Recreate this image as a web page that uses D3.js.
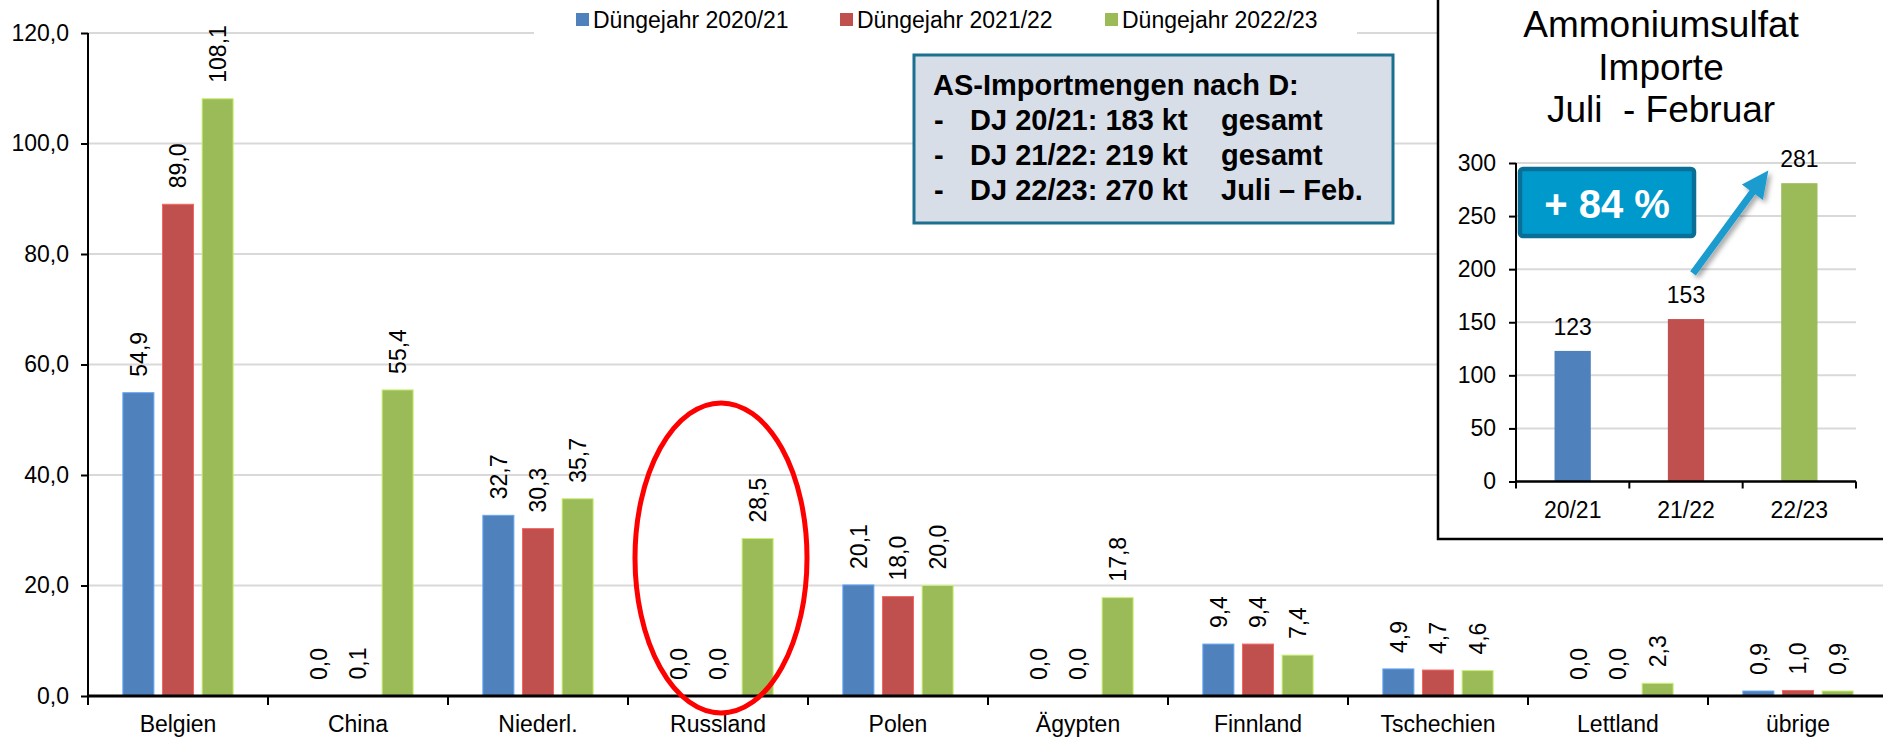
<!DOCTYPE html>
<html>
<head>
<meta charset="utf-8">
<script src="https://cdn.jsdelivr.net/npm/d3@7"></script>
<style>
  body { margin: 0; background: #fff; }
  svg { display: block; font-family: Arial, "Liberation Sans", sans-serif; }
</style>
</head>
<body>
<div id="vis"></div>
<script>

// Importe nach Herkunftsland (kt)
var categories = ['Belgien', 'China', 'Niederl.', 'Russland', 'Polen', 'Ägypten', 'Finnland', 'Tschechien', 'Lettland', 'übrige'];
var seriesNames = ['Düngejahr 2020/21', 'Düngejahr 2021/22', 'Düngejahr 2022/23'];
var dj2021 = [54.9, 0.0, 32.7, 0.0, 20.1, 0.0, 9.4, 4.9, 0.0, 0.9];
var dj2122 = [89.0, 0.1, 30.3, 0.0, 18.0, 0.0, 9.4, 4.7, 0.0, 1.0];
var dj2223 = [108.1, 55.4, 35.7, 28.5, 20.0, 17.8, 7.4, 4.6, 2.3, 0.9];
var yTicks = [0, 20, 40, 60, 80, 100, 120];

// Inset: Juli - Februar gesamt
var insetYears = ['20/21', '21/22', '22/23'];
var insetTotals = [123, 153, 281];
var insetTicks = [0, 50, 100, 150, 200, 250, 300];

var infoTitle = 'AS-Importmengen nach D:';
var infoRows = [
  ['DJ 20/21: 183 kt', 'gesamt'],
  ['DJ 21/22: 219 kt', 'gesamt'],
  ['DJ 22/23: 270 kt', 'Juli – Feb.']
];

var width = 1883;
var height = 737;
var colors = ['#4f81bd', '#c0504d', '#9bbb59'];
var gridColor = '#d9d9d9';

var de = d3.formatLocale({ decimal: ',', thousands: '.', grouping: [3], currency: ['', '€'] });
var fmt1 = de.format('.1f');

var svg = d3.select('#vis').append('svg')
  .attr('width', width)
  .attr('height', height);

var defs = svg.append('defs');
defs.append('filter')
  .attr('id', 'shadow')
  .attr('x', '-50%').attr('y', '-50%').attr('width', '200%').attr('height', '200%')
  .append('feDropShadow')
  .attr('dx', 3).attr('dy', 3).attr('stdDeviation', 2.5)
  .attr('flood-color', '#000').attr('flood-opacity', 0.35);

// ---------- main chart ----------
var x0 = d3.scaleBand().domain(categories).range([88, 1888]);
var x1 = d3.scaleBand().domain([0, 1, 2]).range([0, x0.bandwidth()])
  .paddingInner(0.217).paddingOuter(0.88);
var y = d3.scaleLinear().domain([0, 120]).range([696, 33]);

var rows = categories.map(function (c, i) {
  return { cat: c, values: [dj2021[i], dj2122[i], dj2223[i]] };
});

// gridlines
svg.append('g').selectAll('line')
  .data(yTicks.slice(1))
  .enter().append('line')
  .attr('x1', 88).attr('x2', width)
  .attr('y1', function (d) { return y(d); })
  .attr('y2', function (d) { return y(d); })
  .attr('stroke', gridColor)
  .attr('stroke-width', 2);

var groups = svg.append('g').selectAll('g')
  .data(rows)
  .enter().append('g')
  .attr('transform', function (d) { return 'translate(' + x0(d.cat) + ',0)'; });

groups.selectAll('rect')
  .data(function (d) { return d.values; })
  .enter().append('rect')
  .attr('x', function (d, i) { return x1(i); })
  .attr('y', function (d) { return y(d); })
  .attr('width', x1.bandwidth())
  .attr('height', function (d) { return y(0) - y(d); })
  .attr('fill', function (d, i) { return colors[i]; })
  .attr('stroke', function (d, i) { return d3.rgb(colors[i]).brighter(0.7); })
  .attr('stroke-width', function (d) { return d > 0 ? 1 : 0; });

// rotated value labels
groups.selectAll('text')
  .data(function (d) { return d.values; })
  .enter().append('text')
  .attr('transform', function (d, i) {
    return 'translate(' + (x1(i) + x1.bandwidth() / 2) + ',' + (y(d) - 16) + ') rotate(-90)';
  })
  .attr('dy', '0.36em')
  .attr('font-size', 23)
  .attr('fill', '#000')
  .text(function (d) { return fmt1(d); });

// axes
var yAxis = svg.append('g')
  .attr('transform', 'translate(88,0)')
  .call(d3.axisLeft(y).tickValues(yTicks).tickFormat(fmt1).tickSize(7).tickPadding(12));
yAxis.select('.domain').attr('stroke', '#000').attr('stroke-width', 2).attr('d', 'M0,' + y(120) + 'V' + y(0));
yAxis.selectAll('.tick line').attr('stroke', '#000').attr('stroke-width', 2);
yAxis.selectAll('.tick text').attr('font-size', 23).attr('fill', '#000').attr('font-family', 'Arial, "Liberation Sans", sans-serif');

var xAxisG = svg.append('g');
xAxisG.append('line')
  .attr('x1', 88).attr('x2', width)
  .attr('y1', y(0)).attr('y2', y(0))
  .attr('stroke', '#000').attr('stroke-width', 3);
xAxisG.selectAll('.tk')
  .data(categories)
  .enter().append('line')
  .attr('x1', function (d) { return x0(d); })
  .attr('x2', function (d) { return x0(d); })
  .attr('y1', y(0)).attr('y2', y(0) + 9)
  .attr('stroke', '#000').attr('stroke-width', 2);
xAxisG.selectAll('text')
  .data(categories)
  .enter().append('text')
  .attr('x', function (d) { return x0(d) + x0.bandwidth() / 2; })
  .attr('y', 732)
  .attr('text-anchor', 'middle')
  .attr('font-size', 23)
  .text(function (d) { return d; });

// legend
svg.append('rect')
  .attr('x', 534).attr('y', 0).attr('width', 823).attr('height', 46)
  .attr('fill', '#fff');
var legendX = [576, 840, 1105];
var legend = svg.append('g').selectAll('g')
  .data(seriesNames)
  .enter().append('g')
  .attr('transform', function (d, i) { return 'translate(' + legendX[i] + ',0)'; });
legend.append('rect')
  .attr('x', 0).attr('y', 13).attr('width', 13).attr('height', 13)
  .attr('fill', function (d, i) { return colors[i]; });
legend.append('text')
  .attr('x', 17).attr('y', 28)
  .attr('font-size', 23)
  .text(function (d) { return d; });

// info box
var info = svg.append('g');
info.append('rect')
  .attr('x', 914).attr('y', 55).attr('width', 479).attr('height', 168)
  .attr('fill', '#d7dee8')
  .attr('stroke', '#1b6f8f').attr('stroke-width', 3);
info.append('text')
  .attr('x', 933).attr('y', 95)
  .attr('font-size', 29).attr('font-weight', 'bold')
  .text(infoTitle);
var infoLines = info.selectAll('.row')
  .data(infoRows)
  .enter().append('g')
  .attr('class', 'row')
  .attr('font-size', 29).attr('font-weight', 'bold');
infoLines.append('text')
  .attr('x', 934).attr('y', function (d, i) { return 130 + i * 35; })
  .text('-');
infoLines.append('text')
  .attr('x', 970).attr('y', function (d, i) { return 130 + i * 35; })
  .text(function (d) { return d[0]; });
infoLines.append('text')
  .attr('x', 1221).attr('y', function (d, i) { return 130 + i * 35; })
  .text(function (d) { return d[1]; });

// red ellipse around Russland
svg.append('ellipse')
  .attr('cx', x0('Russland') + x0.bandwidth() / 2 + 3)
  .attr('cy', y(25))
  .attr('rx', 86)
  .attr('ry', 155)
  .attr('fill', 'none')
  .attr('stroke', '#ff0000')
  .attr('stroke-width', 5);

// ---------- inset ----------
var inset = svg.append('g');
inset.append('rect')
  .attr('x', 1438).attr('y', -10).attr('width', 460).attr('height', 549)
  .attr('fill', '#fff')
  .attr('stroke', '#000').attr('stroke-width', 2.5);

var titleLines = ['Ammoniumsulfat', 'Importe', 'Juli  - Februar'];
inset.append('text')
  .attr('text-anchor', 'middle')
  .attr('font-size', 37)
  .attr('xml:space', 'preserve')
  .selectAll('tspan')
  .data(titleLines)
  .enter().append('tspan')
  .attr('x', 1661)
  .attr('y', function (d, i) { return 37 + i * 42.5; })
  .text(function (d) { return d; });

var xi = d3.scaleBand().domain(insetYears).range([1516, 1856]).paddingInner(0.68).paddingOuter(0.34);
var yi = d3.scaleLinear().domain([0, 300]).range([481.5, 163]);

inset.append('g').selectAll('line')
  .data(insetTicks.slice(1))
  .enter().append('line')
  .attr('x1', 1516).attr('x2', 1856)
  .attr('y1', function (d) { return yi(d); })
  .attr('y2', function (d) { return yi(d); })
  .attr('stroke', gridColor).attr('stroke-width', 2);

inset.append('g').selectAll('rect')
  .data(insetTotals)
  .enter().append('rect')
  .attr('x', function (d, i) { return xi(insetYears[i]); })
  .attr('y', function (d) { return yi(d); })
  .attr('width', xi.bandwidth())
  .attr('height', function (d) { return yi(0) - yi(d); })
  .attr('fill', function (d, i) { return colors[i]; });

inset.append('g').selectAll('text')
  .data(insetTotals)
  .enter().append('text')
  .attr('x', function (d, i) { return xi(insetYears[i]) + xi.bandwidth() / 2; })
  .attr('y', function (d) { return yi(d) - 16; })
  .attr('text-anchor', 'middle')
  .attr('font-size', 23)
  .text(function (d) { return d; });

var yiAxis = inset.append('g')
  .attr('transform', 'translate(1516,0)')
  .call(d3.axisLeft(yi).tickValues(insetTicks).tickSize(7).tickPadding(13));
yiAxis.select('.domain').attr('stroke', '#000').attr('stroke-width', 2).attr('d', 'M0,' + yi(300) + 'V' + yi(0));
yiAxis.selectAll('.tick line').attr('stroke', '#000').attr('stroke-width', 2);
yiAxis.selectAll('.tick text').attr('font-size', 23).attr('fill', '#000').attr('font-family', 'Arial, "Liberation Sans", sans-serif');

inset.append('line')
  .attr('x1', 1516).attr('x2', 1856)
  .attr('y1', yi(0)).attr('y2', yi(0))
  .attr('stroke', '#000').attr('stroke-width', 2.5);
inset.selectAll('.itk')
  .data([0, 1, 2, 3])
  .enter().append('line')
  .attr('x1', function (d) { return 1516 + d * xi.step(); })
  .attr('x2', function (d) { return 1516 + d * xi.step(); })
  .attr('y1', yi(0)).attr('y2', yi(0) + 7)
  .attr('stroke', '#000').attr('stroke-width', 2);
inset.append('g').selectAll('text')
  .data(insetYears)
  .enter().append('text')
  .attr('x', function (d) { return xi(d) + xi.bandwidth() / 2; })
  .attr('y', 518)
  .attr('text-anchor', 'middle')
  .attr('font-size', 23)
  .text(function (d) { return d; });

// +84 % box
var badge = inset.append('g');
badge.append('rect')
  .attr('x', 1520).attr('y', 169).attr('width', 174).attr('height', 67)
  .attr('rx', 3)
  .attr('fill', '#0099cc')
  .attr('stroke', '#0a6f96').attr('stroke-width', 4.5);
badge.append('text')
  .attr('x', 1607).attr('y', 218)
  .attr('text-anchor', 'middle')
  .attr('font-size', 40).attr('font-weight', 'bold')
  .attr('fill', '#fff')
  .text('+ 84 %');

// arrow from 21/22 to 22/23
var ax0 = xi('21/22') + xi.bandwidth() / 2 + 7, ay0 = yi(196);
var ax1 = xi('22/23') + xi.bandwidth() / 2 - 31, ay1 = yi(293);
var dx = ax1 - ax0, dy = ay1 - ay0, len = Math.sqrt(dx * dx + dy * dy);
var ux = dx / len, uy = dy / len, nx = -uy, ny = ux;
var headLen = 27, headW = 13, shaftW = 3.5;
var bx = ax1 - ux * headLen, by = ay1 - uy * headLen;
var pts = [
  [ax0 + nx * shaftW, ay0 + ny * shaftW],
  [bx + nx * shaftW, by + ny * shaftW],
  [bx + nx * headW, by + ny * headW],
  [ax1, ay1],
  [bx - nx * headW, by - ny * headW],
  [bx - nx * shaftW, by - ny * shaftW],
  [ax0 - nx * shaftW, ay0 - ny * shaftW]
];
inset.append('path')
  .attr('d', d3.line()(pts) + 'Z')
  .attr('fill', '#1a9bcf')
  .attr('filter', 'url(#shadow)');

</script>
</body>
</html>
